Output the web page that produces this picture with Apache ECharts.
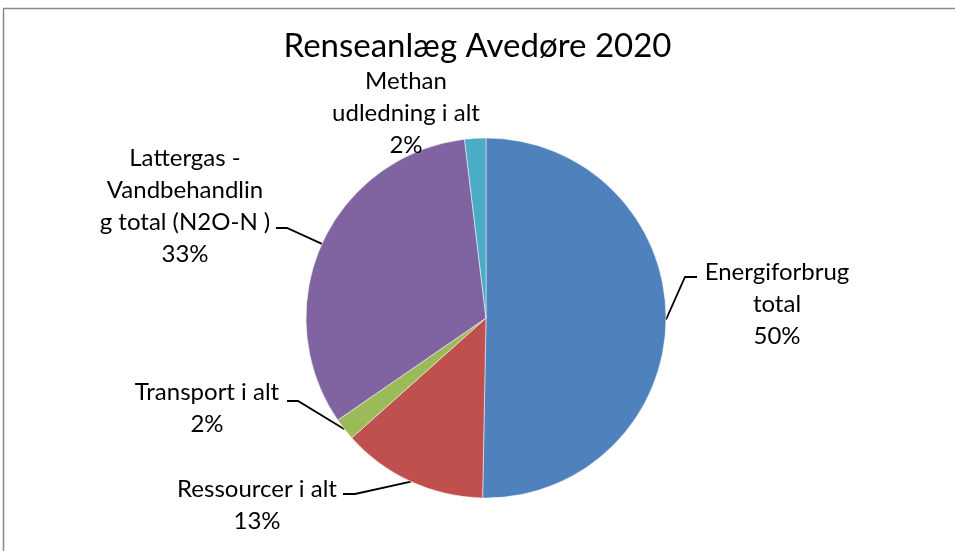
<!DOCTYPE html>
<html>
<head>
<meta charset="UTF-8">
<title>Renseanlæg Avedøre 2020</title>
<script src="https://cdn.jsdelivr.net/npm/echarts@6/dist/echarts.min.js"></script>
<style>
  html, body { margin: 0; padding: 0; background: #fff; }
  #main { width: 955px; height: 551px; }
</style>
</head>
<body>
<div id="main"></div>
<script>
// data (clockwise from 12 o'clock)
var names = ['Energiforbrug\ntotal', 'Ressourcer i alt', 'Transport i alt',
             'Lattergas -\nVandbehandlin\ng total (N2O-N )', 'Methan\nudledning i alt'];
var values = [50.3, 13.1, 2.0, 32.7, 1.9];
var colors = ['#4F81BD', '#C0504D', '#9BBB59', '#8064A2', '#4BACC6'];

// label placement: centre of text block, then leader elbow + end (null = no leader)
var labelPos = [[777, 304], [257, 505], [207, 408], [185, 206], [406, 113]];
var leader = [
    [[685, 277], [697, 277]],
    [[355, 494], [343, 494]],
    [[298, 401], [287, 401]],
    [[287, 228], [276, 228]],
    null
];

var myChart = echarts.init(document.getElementById('main'));

var pieData = [];
for (var i = 0; i < names.length; i++) {
    pieData.push({
        name: names[i],
        value: values[i],
        itemStyle: { color: colors[i] },
        labelLine: { show: leader[i] !== null }
    });
}

var option = {
    animation: false,
    backgroundColor: '#fff',
    title: {
        text: 'Renseanlæg Avedøre 2020',
        left: 'center',
        top: 25,
        textStyle: { fontFamily: 'Lato', fontSize: 33, fontWeight: 'normal', color: '#000' }
    },
    graphic: [{
        type: 'rect',
        shape: { x: 3.5, y: 8.5, width: 960, height: 560 },
        style: { fill: 'none', stroke: '#8a8a8a', lineWidth: 1.5 },
        silent: true
    }],
    series: [{
        type: 'pie',
        center: [486, 318],
        radius: 180,
        startAngle: 90,
        clockwise: true,
        data: pieData,
        itemStyle: { borderColor: '#fff', borderWidth: 0.5 },
        label: {
            show: true,
            color: '#000',
            fontFamily: 'Lato',
            fontSize: 24,
            lineHeight: 32,
            align: 'center',
            formatter: function (p) {
                return p.name + '\n' + Math.round(p.percent) + '%';
            }
        },
        labelLine: {
            show: true,
            lineStyle: { color: '#000', width: 1.8 }
        },
        labelLayout: function (params) {
            var i = params.dataIndex;
            var pos = labelPos[i];
            var res = { x: pos[0], y: pos[1], align: 'center', verticalAlign: 'middle' };
            if (leader[i] && params.labelLinePoints) {
                res.labelLinePoints = [params.labelLinePoints[0], leader[i][0], leader[i][1]];
            }
            return res;
        }
    }]
};

myChart.setOption(option);
</script>
</body>
</html>
